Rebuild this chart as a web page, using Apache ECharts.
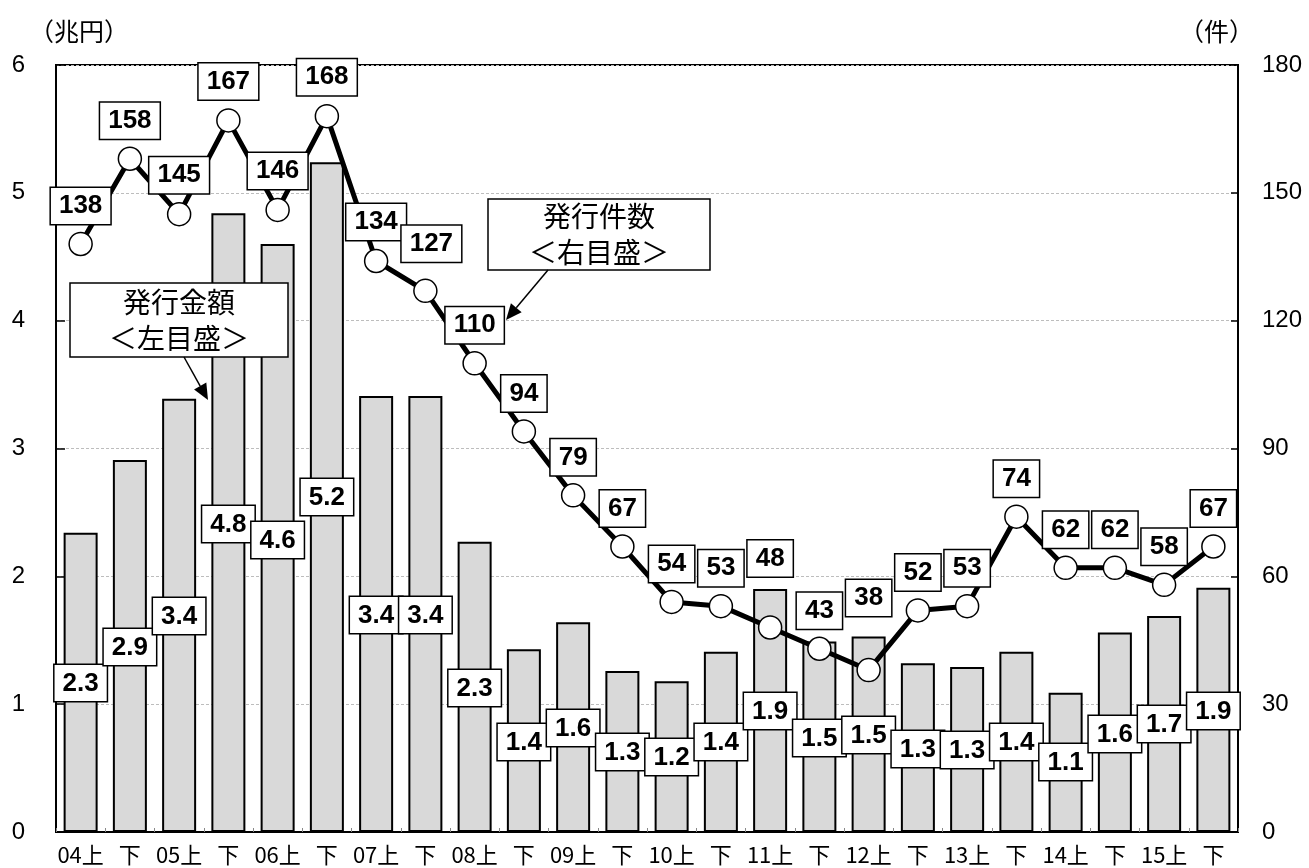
<!DOCTYPE html>
<html><head><meta charset="utf-8">
<script src="https://cdn.jsdelivr.net/npm/echarts@6/dist/echarts.min.js"></script>
<style>html,body{margin:0;padding:0;background:#fff}#c{width:1309px;height:868px}</style>
</head><body><div id="c"></div>
<script>
// ---- data ----
const categories = ['04上','下','05上','下','06上','下','07上','下','08上','下','09上','下','10上','下','11上','下','12上','下','13上','下','14上','下','15上','下'];
const issueAmount = [2.34,2.91,3.39,4.84,4.60,5.24,3.41,3.41,2.27,1.43,1.64,1.26,1.18,1.41,1.90,1.49,1.53,1.32,1.29,1.41,1.09,1.56,1.69,1.91]; // 兆円
const issueCount = [138,158,145,167,146,168,134,127,110,94,79,67,54,53,48,43,38,52,53,74,62,62,58,67]; // 件
const leftTickLabels = ['0','1','2','3','4','5','6'];
const rightTickLabels = ['0','30','60','90','120','150','180'];

// ---- layout (label placement, px) ----
const barLabelRise = [150,186,217,309,293,336,218,218,145,91,105,81,76,91,122,95,98,84,83,91,71,99,109,122];
const lineLabelLift = [38,38,39,39,39,39,39,47,38,38,38,38,38,38,69,38,72,38,38,38,38,38,38,38];
const lineLabelShift = [0,0,0,0,0,0,0,6,0,0,0,0,0,0,0,0,0,0,0,0,0,0,0,0];

const numFont = "'Liberation Sans',Arial,sans-serif";
const jpFont = "'Noto Sans CJK JP',sans-serif";
const boxLabel = {
  show: true, color: '#000', fontFamily: numFont, fontWeight: 'bold', fontSize: 26,
  lineHeight: 29, backgroundColor: '#fff', borderColor: '#000', borderWidth: 1.5,
  padding: [4, 8, 3, 8]
};

const chart = echarts.init(document.getElementById('c'), null, {renderer: 'canvas'});

function arrow(x1, y1, x2, y2) {
  const dx = x2 - x1, dy = y2 - y1, L = Math.hypot(dx, dy);
  const ux = dx / L, uy = dy / L, len = 16, hw = 7;
  const bx = x2 - ux * len, by = y2 - uy * len;
  return [
    {type: 'line', z: 100, shape: {x1, y1, x2: bx, y2: by}, style: {stroke: '#000', lineWidth: 1.5}},
    {type: 'polygon', z: 100, shape: {points: [[x2, y2], [bx - uy * hw, by + ux * hw], [bx + uy * hw, by - ux * hw]]}, style: {fill: '#000'}}
  ];
}
function noteBox(x, y, w, h, text) {
  return {type: 'group', z: 100, children: [
    {type: 'rect', z: 100, shape: {x, y, width: w, height: h}, style: {fill: '#fff', stroke: '#000', lineWidth: 1.5}},
    {type: 'text', z: 101, style: {x: x + w / 2, y: y + h / 2, text, align: 'center', verticalAlign: 'middle',
      font: "28px 'Noto Sans CJK JP'", lineHeight: 36, fill: '#000'}}
  ]};
}

const option = {
  animation: false,
  grid: {left: 56, right: 71, top: 65, bottom: 36, show: true, borderColor: '#000', borderWidth: 2, backgroundColor: 'transparent'},
  xAxis: {
    type: 'category', data: categories, boundaryGap: true,
    axisLine: {show: true, lineStyle: {color: '#000', width: 2}},
    axisTick: {show: true, inside: true, length: 4, lineStyle: {color: '#888', width: 1}},
    axisLabel: {interval: 0, color: '#000', fontSize: 22, fontFamily: jpFont, margin: 12}
  },
  yAxis: [
    {type: 'value', min: 0, max: 6, interval: 1, position: 'left',
     axisLine: {show: true, lineStyle: {color: '#000', width: 2}},
     axisTick: {show: true, inside: true, length: 9, lineStyle: {color: '#000', width: 1.5}},
     axisLabel: {color: '#000', fontSize: 24, fontFamily: numFont, margin: 31,
       formatter: (v) => leftTickLabels[Math.round(v)]},
     splitLine: {show: true, lineStyle: {color: '#bdbdbd', width: 1, type: [3, 2]}}},
    {type: 'value', min: 0, max: 180, interval: 30, position: 'right',
     axisLine: {show: true, lineStyle: {color: '#000', width: 2}},
     axisTick: {show: true, inside: true, length: 7, lineStyle: {color: '#000', width: 1.5}},
     axisLabel: {color: '#000', fontSize: 24, fontFamily: numFont, margin: 24,
       formatter: (v) => rightTickLabels[Math.round(v / 30)]},
     splitLine: {show: false}}
  ],
  series: [
    {type: 'bar', yAxisIndex: 0, barWidth: 34, z: 2,
     itemStyle: {color: '#d9d9d9', borderColor: '#000', borderWidth: 2},
     data: issueAmount.map((v, i) => ({value: v,
       label: Object.assign({}, boxLabel, {position: 'insideBottom', distance: barLabelRise[i] - 19,
         formatter: (p) => p.value.toFixed(1)})}))},
    {type: 'line', yAxisIndex: 1, z: 3, symbol: 'circle', symbolSize: 23,
     lineStyle: {color: '#000', width: 5},
     itemStyle: {color: '#fff', borderColor: '#000', borderWidth: 1.5},
     data: issueCount.map((v, i) => ({value: v,
       label: Object.assign({}, boxLabel, {position: 'inside', offset: [lineLabelShift[i], -lineLabelLift[i]],
         formatter: '{c}'})}))}
  ],
  graphic: [
    {type: 'text', z: 100, style: {x: 29, y: 31, text: '（兆円）', font: "25px 'Noto Sans CJK JP'", verticalAlign: 'middle', fill: '#000'}},
    {type: 'text', z: 100, style: {x: 1254, y: 31, text: '（件）', font: "25px 'Noto Sans CJK JP'", align: 'right', verticalAlign: 'middle', fill: '#000'}},
    noteBox(70, 283, 218, 74, '発行金額\n＜左目盛＞'),
    ...arrow(184, 357, 208, 400),
    noteBox(488, 199, 222, 71, '発行件数\n＜右目盛＞'),
    ...arrow(548, 270, 506, 320)
  ]
};
chart.setOption(option);
</script>
</body></html>
